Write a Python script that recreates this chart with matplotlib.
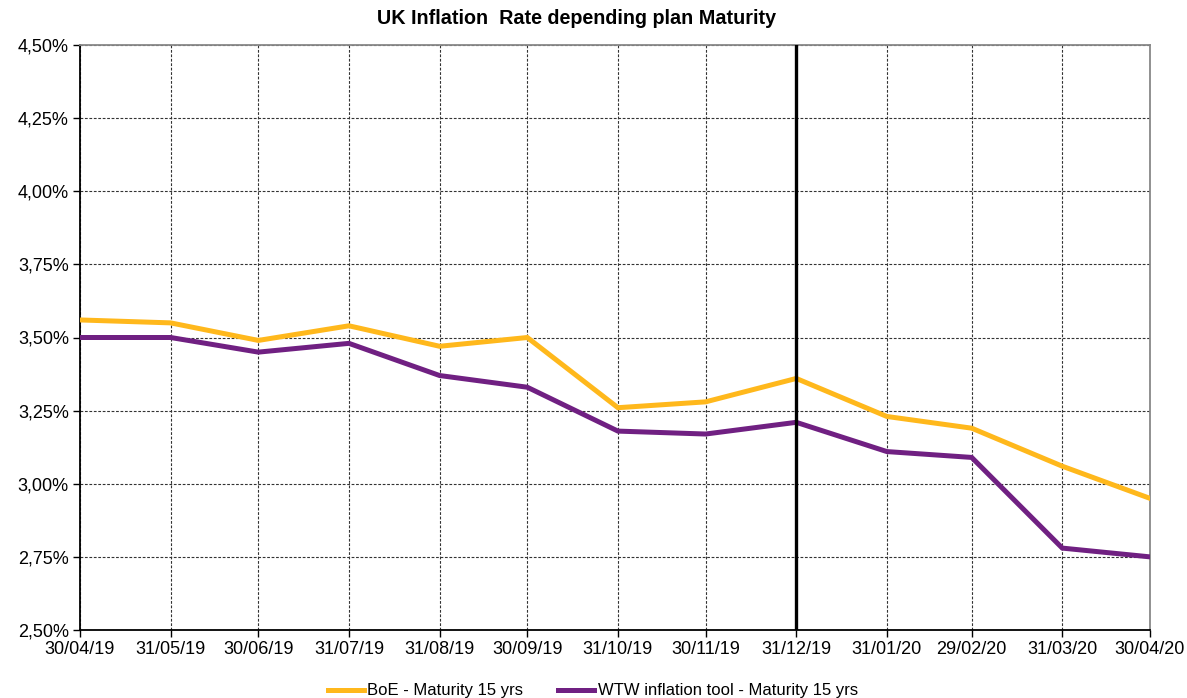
#!/usr/bin/env python3
"""
UK inflation rate by plan maturity: BoE curve vs WTW inflation tool, 15 yrs.
Writes: out.png
"""
from datetime import date

import matplotlib
matplotlib.use("Agg")
import matplotlib.pyplot as plt
import matplotlib.dates as mdates
from matplotlib.ticker import FuncFormatter, MultipleLocator

plt.rcParams["font.family"] = ["Liberation Sans", "DejaVu Sans"]

DATES = [
    date(2019, 4, 30), date(2019, 5, 31), date(2019, 6, 30), date(2019, 7, 31),
    date(2019, 8, 31), date(2019, 9, 30), date(2019, 10, 31), date(2019, 11, 30),
    date(2019, 12, 31), date(2020, 1, 31), date(2020, 2, 29), date(2020, 3, 31),
    date(2020, 4, 30),
]
BOE = [3.56, 3.55, 3.49, 3.54, 3.47, 3.50, 3.26, 3.28, 3.36, 3.23, 3.19, 3.06, 2.95]
WTW = [3.50, 3.50, 3.45, 3.48, 3.37, 3.33, 3.18, 3.17, 3.21, 3.11, 3.09, 2.78, 2.75]
MARKER_DATE = date(2019, 12, 31)

LABELS = ["BoE - Maturity 15 yrs", "WTW inflation tool - Maturity 15 yrs"]
COLORS = ["#FFB81C", "#702082"]
TITLE = "UK Inflation  Rate depending plan Maturity"


def pct(v, _pos):
    return f"{v:.2f}%".replace(".", ",")


def main():
    fig = plt.figure(figsize=(11.87, 6.98), dpi=100)
    ax = fig.add_axes([80 / 1187, 1 - 630 / 698, 1070 / 1187, 585 / 698])

    for series, label, color in zip([BOE, WTW], LABELS, COLORS):
        ax.plot(DATES, series, color=color, linewidth=3.6, label=label,
                solid_joinstyle="miter", zorder=3)

    # marks the year end
    ax.axvline(MARKER_DATE, color="black", linewidth=2.4, zorder=4)

    ax.set_xlim(DATES[0], DATES[-1])
    ax.set_ylim(2.5, 4.5)
    ax.yaxis.set_major_locator(MultipleLocator(0.25))
    ax.yaxis.set_major_formatter(FuncFormatter(pct))
    ax.set_xticks(DATES)
    ax.xaxis.set_major_formatter(mdates.DateFormatter("%d/%m/%y"))

    ax.grid(True, color="#333333", linestyle=(0, (2.5, 1.5)), linewidth=0.8)
    ax.tick_params(axis="both", direction="out", length=5, width=1,
                   labelsize=13, pad=3)

    for side in ("left", "bottom"):
        ax.spines[side].set_color("black")
        ax.spines[side].set_linewidth(1.3)
    for side in ("top", "right"):
        ax.spines[side].set_color("#888888")
        ax.spines[side].set_linewidth(1.3)

    fig.text(577 / 1187, 1 - 18 / 698, TITLE, ha="center", va="center",
             fontsize=14.2, fontweight="bold")

    fig.legend(loc="center", bbox_to_anchor=(593 / 1187, 1 - 691 / 698),
               ncol=2, frameon=False, fontsize=12, handlelength=2.15,
               handletextpad=0.2, columnspacing=2.1)

    fig.savefig("out.png", dpi=100)
    plt.close(fig)


if __name__ == "__main__":
    main()
